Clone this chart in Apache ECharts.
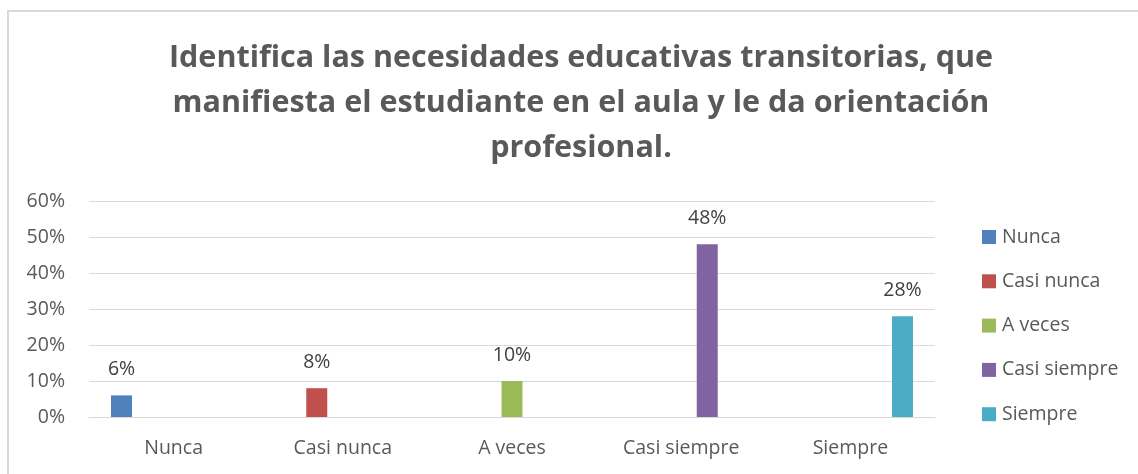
<!DOCTYPE html>
<html>
<head>
<meta charset="utf-8">
<script src="https://cdn.jsdelivr.net/npm/echarts@6/dist/echarts.min.js"></script>
<style>
  html, body { margin: 0; padding: 0; background: #fff; }
  #chart { width: 1138px; height: 474px; }
  #frame {
    position: absolute; left: 7px; top: 10px; width: 1140px; height: 480px;
    border-left: 2px solid #d9d9d9; border-top: 2px solid #d9d9d9;
    pointer-events: none;
  }
</style>
</head>
<body>
<div id="chart"></div>
<div id="frame"></div>
<script>
// categorias y porcentajes
const categories = ['Nunca', 'Casi nunca', 'A veces', 'Casi siempre', 'Siempre']
const values = [0.06, 0.08, 0.10, 0.48, 0.28]
const yTicks = [0, 0.1, 0.2, 0.3, 0.4, 0.5, 0.6]
const colors = ['#4f81bd', '#c0504d', '#9bbb59', '#8064a2', '#4bacc6']
const titleText = 'Identifica las necesidades educativas transitorias, que\nmanifiesta el estudiante en el aula y le da orientación\nprofesional.'

const FONT = '"Open Sans", "Noto Sans", sans-serif'
const FS = 19.5

const chart = echarts.init(document.getElementById('chart'))

const pct = v => Math.round(v * 100) + '%'

// una serie por categoria, solo con su propio valor (como en Excel)
const series = categories.map((name, i) => ({
  name: name,
  type: 'bar',
  barWidth: 21,
  barGap: '24%',
  itemStyle: { color: colors[i] },
  label: {
    show: true,
    position: 'top',
    distance: 16,
    color: '#404040',
    fontSize: FS,
    fontFamily: FONT,
    formatter: p => pct(p.value)
  },
  data: categories.map((c, j) => (j === i ? values[i] : null))
}))

chart.setOption({
  animation: false,
  backgroundColor: '#fff',
  title: {
    text: titleText,
    left: 576,
    top: 31,
    textAlign: 'center',
    textStyle: {
      color: '#595959',
      fontSize: 30.5,
      fontWeight: 'bold',
      fontFamily: FONT,
      lineHeight: 45
    }
  },
  legend: {
    orient: 'vertical',
    left: 977,
    top: 222,
    itemWidth: 14,
    itemHeight: 14,
    itemGap: 24.3,
    icon: 'rect',
    textStyle: {
      color: '#595959',
      fontSize: FS,
      fontFamily: FONT,
      lineHeight: 17,
      padding: [0, 0, 0, 1]
    },
    data: categories
  },
  grid: {
    left: 89,
    right: 203,
    top: 201,
    bottom: 57,
    containLabel: false
  },
  xAxis: {
    type: 'category',
    data: categories,
    axisTick: { show: false },
    axisLine: { lineStyle: { color: '#d9d9d9', width: 1 } },
    axisLabel: {
      color: '#595959',
      fontSize: FS,
      fontFamily: FONT,
      margin: 21
    }
  },
  yAxis: {
    type: 'value',
    min: yTicks[0],
    max: yTicks[yTicks.length - 1],
    interval: 0.1,
    axisLine: { show: false },
    axisTick: { show: false },
    splitLine: { lineStyle: { color: '#d9d9d9', width: 1 } },
    axisLabel: {
      color: '#595959',
      fontSize: FS,
      fontFamily: FONT,
      margin: 24,
      formatter: v => pct(v)
    }
  },
  series: series
})
</script>
</body>
</html>
